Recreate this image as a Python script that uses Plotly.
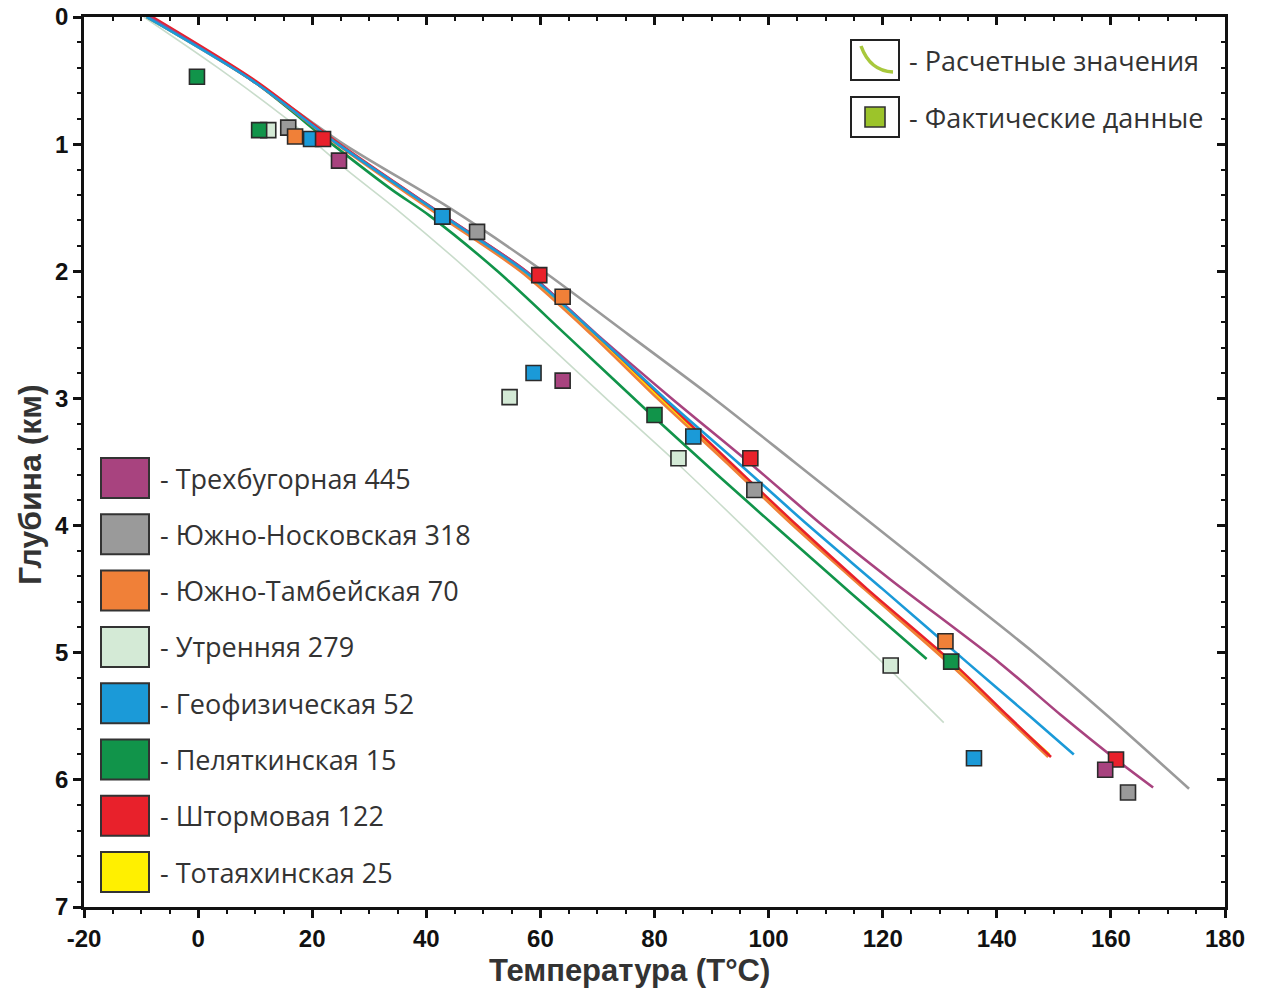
import plotly.graph_objects as go

# ---------------- data ----------------
wells = ["Трехбугорная 445", "Южно-Носковская 318", "Южно-Тамбейская 70", "Утренняя 279",
         "Геофизическая 52", "Пеляткинская 15", "Штормовая 122", "Тотаяхинская 25"]
colors = ["#a8437f", "#9a9a9a", "#f08038", "#d4ead6", "#1b9ad8", "#11944a", "#e8212b", "#fff000"]
line_colors = ["#a8437f", "#9a9a9a", "#f08038", "#c9dccb", "#1b9ad8", "#11944a", "#e8212b", "#ffe600"]

# calculated curves: depth (km) and temperature (°C)
calc_depth = {
    "Трехбугорная 445":    [0, 0.5, 1.0, 1.56, 2.0, 2.5, 3.0, 3.5, 4.0, 4.43, 5.08, 5.5, 5.84, 6.06],
    "Южно-Носковская 318": [0, 0.5, 1.0, 1.5, 2.0, 2.5, 3.0, 3.5, 4.0, 4.5, 5.0, 5.5, 6.07],
    "Южно-Тамбейская 70":  [0, 0.5, 1.0, 1.56, 2.0, 2.5, 3.0, 3.5, 4.0, 4.5, 5.08, 5.5, 5.82],
    "Утренняя 279":        [0, 0.4, 0.8, 1.2, 1.52, 2.0, 2.5, 3.0, 3.49, 4.04, 4.8, 5.1, 5.55],
    "Геофизическая 52":    [0, 0.5, 1.0, 1.56, 2.0, 2.5, 3.0, 3.5, 4.0, 4.5, 5.08, 5.5, 5.8],
    "Пеляткинская 15":     [0, 0.5, 1.0, 1.36, 1.56, 2.0, 2.5, 3.13, 3.6, 4.0, 4.53, 5.05],
    "Штормовая 122":       [0, 0.5, 1.0, 1.56, 2.0, 2.5, 3.0, 3.5, 4.0, 4.5, 5.08, 5.5, 5.82],
    "Тотаяхинская 25":     [0, 0.5, 1.0, 1.56, 2.0, 2.5, 3.0, 3.5, 4.0, 4.5, 5.08, 5.5, 5.80],
}
calc_temp = {
    "Трехбугорная 445":    [-8.5, 9.5, 24.5, 43, 57.5, 70, 83, 96.5, 109.5, 121.5, 140.5, 151.5, 160.9, 167.4],
    "Южно-Носковская 318": [-9, 9.5, 25.5, 44, 60.5, 75.5, 90.4, 104.5, 118.5, 132.5, 146.5, 159.5, 173.7],
    "Южно-Тамбейская 70":  [-8.5, 9.5, 24.3, 42.2, 56.5, 69, 80.5, 92.5, 104.3, 116.8, 131.5, 141.5, 149],
    "Утренняя 279":        [-9.5, 3.5, 15.5, 26, 35, 47.5, 59.5, 71.5, 83.5, 96.3, 113.5, 120.5, 130.7],
    "Геофизическая 52":    [-9, 9.5, 24.5, 42.8, 57.2, 69.8, 81.8, 94.5, 107, 120, 134.9, 145.8, 153.5],
    "Пеляткинская 15":     [-9, 9.5, 23.5, 34, 40.5, 52.5, 64.5, 79.5, 91, 101, 114.4, 127.7],
    "Штормовая 122":       [-8, 10, 24.8, 43, 57.5, 69.8, 81.5, 93.2, 105, 117.3, 132.3, 142, 149.5],
    "Тотаяхинская 25":     [-8.5, 9.7, 24.5, 42.6, 57, 69.4, 81, 92.8, 104.6, 117, 132, 141.8, 149.2],
}
# measured data
meas_temp = {
    "Трехбугорная 445":    [24.7, 63.9, 159],
    "Южно-Носковская 318": [15.8, 48.9, 97.5, 163],
    "Южно-Тамбейская 70":  [17, 63.9, 131],
    "Утренняя 279":        [12.3, 54.6, 84.2, 121.4],
    "Геофизическая 52":    [19.8, 42.8, 58.8, 86.8, 136],
    "Пеляткинская 15":     [-0.2, 10.7, 42.8, 80, 132],
    "Штормовая 122":       [21.9, 59.8, 96.8, 160.9],
    "Тотаяхинская 25":     [],
}
meas_depth = {
    "Трехбугорная 445":    [1.13, 2.86, 5.92],
    "Южно-Носковская 318": [0.87, 1.69, 3.72, 6.1],
    "Южно-Тамбейская 70":  [0.94, 2.2, 4.91],
    "Утренняя 279":        [0.89, 2.99, 3.47, 5.1],
    "Геофизическая 52":    [0.96, 1.57, 2.8, 3.30, 5.83],
    "Пеляткинская 15":     [0.47, 0.89, 1.57, 3.13, 5.07],
    "Штормовая 122":       [0.96, 2.03, 3.47, 5.84],
    "Тотаяхинская 25":     [],
}
x_ticks = [-20, 0, 20, 40, 60, 80, 100, 120, 140, 160, 180]
x_ticklabels = ["-20", "0", "20", "40", "60", "80", "100", "120", "140", "160", "180"]
y_ticks = [0, 1, 2, 3, 4, 5, 6, 7]
legend_top = ["- Расчетные значения", "- Фактические данные"]
x_title = "Температура (T°C)"
y_title = "Глубина (км)"

# ---------------- figure ----------------
W, H = 1269, 994
L, R, T, B = 84, 1225, 17, 907   # plot area in page pixels


def px(x):
    return (x - L) / (R - L)


def py(y):
    return (B - y) / (B - T)


fig = go.Figure()

draw_order = [3, 5, 1, 7, 2, 6, 0, 4]
widths = {3: 1.6}
for i in draw_order:
    name = wells[i]
    fig.add_trace(go.Scatter(
        x=calc_temp[name], y=calc_depth[name], mode="lines",
        line=dict(color=line_colors[i], width=widths.get(i, 2.6), shape="spline", smoothing=0.8),
        showlegend=False, hoverinfo="skip"))

for i in [3, 5, 1, 2, 4, 6, 0]:
    name = wells[i]
    fig.add_trace(go.Scatter(
        x=meas_temp[name], y=meas_depth[name], mode="markers",
        marker=dict(symbol="square", size=15, color=colors[i], line=dict(color="#2b2b2b", width=1.6)),
        showlegend=False, hoverinfo="skip"))

# invisible trace for the mirrored axes
fig.add_trace(go.Scatter(x=[x_ticks[0]], y=[y_ticks[0]], xaxis="x2", yaxis="y2",
                         mode="markers", marker=dict(opacity=0), showlegend=False, hoverinfo="skip"))

tickfont = dict(family="Liberation Sans, Arial, sans-serif", size=24, color="#111111", weight="bold")
common = dict(showgrid=False, zeroline=False, showline=True, linecolor="#111111", linewidth=2.5,
              tickcolor="#111111", tickwidth=2.5, automargin=False)

fig.update_layout(
    width=W, height=H,
    margin=dict(l=L, r=W - R, t=T, b=H - B, pad=0),
    paper_bgcolor="white", plot_bgcolor="white",
    xaxis=dict(range=[x_ticks[0], x_ticks[-1]], tickvals=x_ticks, ticktext=x_ticklabels,
               ticks="outside", ticklen=8, tickfont=tickfont, ticklabeloverflow="allow",
               minor=dict(dtick=5, ticks="outside", ticklen=4, tickwidth=2, tickcolor="#111111"),
               **common),
    yaxis=dict(range=[y_ticks[-1], y_ticks[0]], tickvals=y_ticks, ticks="outside", ticklen=8,
               tickfont=tickfont, ticklabeloverflow="allow",
               minor=dict(dtick=0.2, ticks="outside", ticklen=4, tickwidth=2, tickcolor="#111111"),
               **common),
    xaxis2=dict(range=[x_ticks[0], x_ticks[-1]], tickvals=x_ticks, overlaying="x", side="top",
                anchor="y", ticks="inside", ticklen=8, showticklabels=False,
                minor=dict(dtick=5, ticks="inside", ticklen=4, tickwidth=2, tickcolor="#111111"),
                **common),
    yaxis2=dict(range=[y_ticks[-1], y_ticks[0]], tickvals=y_ticks, overlaying="y", side="right",
                anchor="x", ticks="inside", ticklen=8, showticklabels=False,
                minor=dict(dtick=0.2, ticks="inside", ticklen=4, tickwidth=2, tickcolor="#111111"),
                **common),
)

# axis titles
fig.add_annotation(xref="paper", yref="paper", x=px(629), y=py(971), text=x_title, showarrow=False,
                   xanchor="center", yanchor="middle",
                   font=dict(family="Liberation Sans, Arial, sans-serif", size=31, color="#333333",
                             weight="bold"))
fig.add_annotation(xref="paper", yref="paper", x=px(30), y=py(485), text=y_title, showarrow=False,
                   xanchor="center", yanchor="middle", textangle=-90,
                   font=dict(family="Liberation Sans, Arial, sans-serif", size=32, color="#333333",
                             weight="bold"))

legend_font = dict(family="Open Sans, Noto Sans, sans-serif", size=27, color="#333333")

# bottom-left well legend
for k, name in enumerate(wells):
    cy = 478 + k * 56.3
    fig.add_shape(type="rect", xref="paper", yref="paper",
                  x0=px(101), x1=px(149), y0=py(cy + 20), y1=py(cy - 20),
                  fillcolor=colors[k], line=dict(color="#333333", width=2))
    fig.add_annotation(xref="paper", yref="paper", x=px(158), y=py(cy), text="- " + name,
                       showarrow=False, xanchor="left", yanchor="middle", font=legend_font)

# top-right legend
fig.add_shape(type="rect", xref="paper", yref="paper", x0=px(851), x1=px(899), y0=py(80), y1=py(40),
              fillcolor="white", line=dict(color="#222222", width=2))
fig.add_shape(type="path", xref="paper", yref="paper",
              path=f"M {px(861)},{py(46)} Q {px(870)},{py(71)} {px(893)},{py(72)}",
              line=dict(color="#a8c83c", width=3.5))
fig.add_shape(type="rect", xref="paper", yref="paper", x0=px(851), x1=px(899), y0=py(137), y1=py(97),
              fillcolor="white", line=dict(color="#222222", width=2))
fig.add_shape(type="rect", xref="paper", yref="paper", x0=px(865), x1=px(885), y0=py(127), y1=py(107),
              fillcolor="#9cc42a", line=dict(color="#333333", width=1.6))
for cy, txt in zip([60, 117], legend_top):
    fig.add_annotation(xref="paper", yref="paper", x=px(907), y=py(cy), text=txt,
                       showarrow=False, xanchor="left", yanchor="middle", font=legend_font)

fig.write_html("out.html", config={"displayModeBar": False},
               post_script="document.body.style.margin='0px';")
